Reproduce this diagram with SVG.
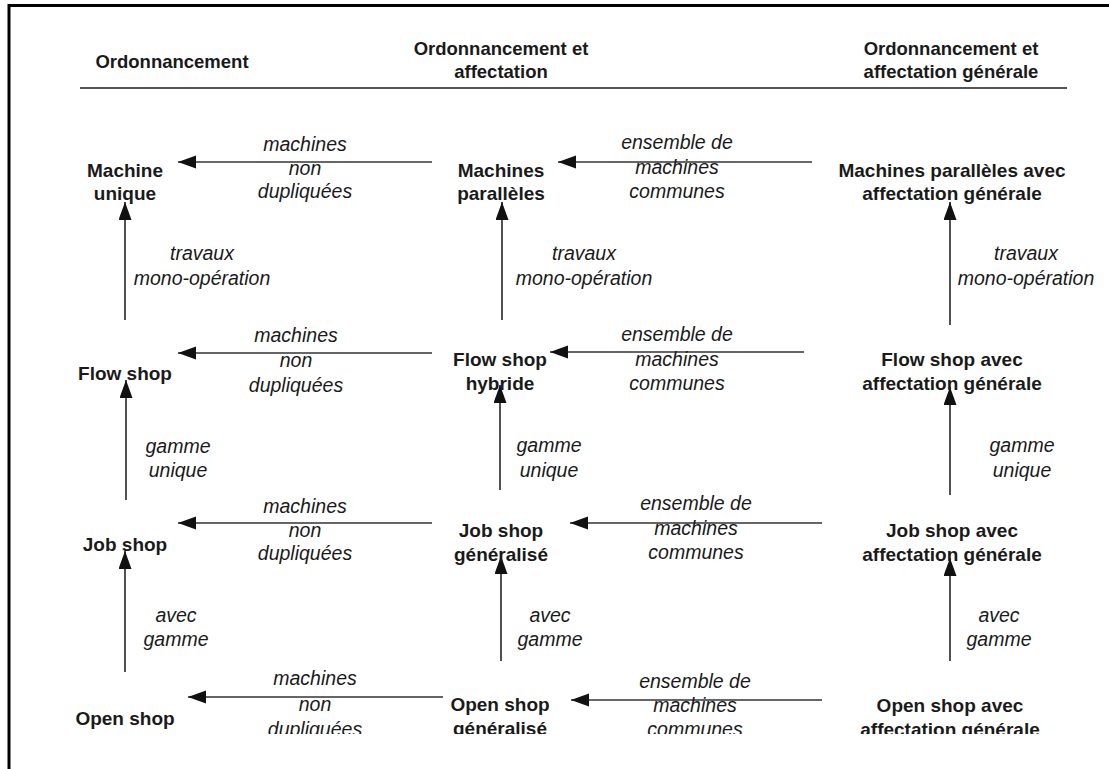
<svg xmlns="http://www.w3.org/2000/svg" width="1109" height="769" viewBox="0 0 1109 769">
<style>
.hd{font-family:"Liberation Sans",Arial,sans-serif;font-weight:bold;font-size:18.5px;fill:#1a1a1a;text-anchor:middle}
.nd{font-family:"Liberation Sans",Arial,sans-serif;font-weight:bold;font-size:19px;fill:#1a1a1a;text-anchor:middle}
.lb{font-family:"Liberation Sans",Arial,sans-serif;font-style:italic;font-size:19.5px;fill:#1a1a1a;text-anchor:middle}
.cn line{stroke:#333;stroke-width:1.7;marker-end:url(#ah)}
</style>
<defs>
<marker id="ah" markerUnits="userSpaceOnUse" markerWidth="19" markerHeight="14" refX="18" refY="6.5" orient="auto">
<path d="M0,0 L18,6.5 L0,13 z" fill="#111"/>
</marker>
<clipPath id="clip"><rect x="0" y="0" width="1109" height="734"/></clipPath>
</defs>
<rect width="1109" height="769" fill="#fff"/>
<path d="M9 769 V5.5 H1109" fill="none" stroke="#000" stroke-width="3"/>
<g id="header">
<text class="hd" x="172" y="68">Ordonnancement</text>
<text class="hd" x="501" y="55">Ordonnancement et</text>
<text class="hd" x="501" y="78">affectation</text>
<text class="hd" x="951" y="55">Ordonnancement et</text>
<text class="hd" x="951" y="78">affectation générale</text>
<line x1="80" y1="88" x2="1067" y2="88" stroke="#555" stroke-width="2"/>
</g>
<g clip-path="url(#clip)">
<g id="connectors" class="cn">
<line x1="432" y1="162" x2="178" y2="162"/>
<line x1="812" y1="162" x2="558" y2="162"/>
<line x1="432" y1="353" x2="178" y2="353"/>
<line x1="804" y1="352" x2="550" y2="352"/>
<line x1="432" y1="523" x2="178" y2="523"/>
<line x1="822" y1="523" x2="570" y2="523"/>
<line x1="443" y1="697" x2="188" y2="697"/>
<line x1="822" y1="700" x2="571" y2="700"/>
<line x1="125" y1="320" x2="125" y2="202"/>
<line x1="126" y1="500" x2="126" y2="380"/>
<line x1="125" y1="672" x2="125" y2="551"/>
<line x1="502" y1="320" x2="502" y2="202"/>
<line x1="500" y1="490" x2="500" y2="385"/>
<line x1="501" y1="661" x2="501" y2="556"/>
<line x1="950" y1="325" x2="950" y2="202"/>
<line x1="950" y1="495" x2="950" y2="387"/>
<line x1="950" y1="661" x2="950" y2="558"/>
</g>
<g id="edge-labels">
<text class="lb" x="305" y="151">machines</text><text class="lb" x="305" y="175">non</text><text class="lb" x="305" y="198">dupliquées</text>
<text class="lb" x="677" y="149">ensemble de</text><text class="lb" x="677" y="174">machines</text><text class="lb" x="677" y="198">communes</text>
<text class="lb" x="296" y="342">machines</text><text class="lb" x="296" y="367">non</text><text class="lb" x="296" y="392">dupliquées</text>
<text class="lb" x="677" y="341">ensemble de</text><text class="lb" x="677" y="366">machines</text><text class="lb" x="677" y="390">communes</text>
<text class="lb" x="305" y="513">machines</text><text class="lb" x="305" y="537">non</text><text class="lb" x="305" y="560">dupliquées</text>
<text class="lb" x="696" y="510">ensemble de</text><text class="lb" x="696" y="535">machines</text><text class="lb" x="696" y="559">communes</text>
<text class="lb" x="315" y="685">machines</text><text class="lb" x="315" y="711">non</text><text class="lb" x="315" y="736">dupliquées</text>
<text class="lb" x="695" y="688">ensemble de</text><text class="lb" x="695" y="712">machines</text><text class="lb" x="695" y="736">communes</text>
<text class="lb" x="202" y="260">travaux</text><text class="lb" x="202" y="285">mono-opération</text>
<text class="lb" x="584" y="260">travaux</text><text class="lb" x="584" y="285">mono-opération</text>
<text class="lb" x="1026" y="260">travaux</text><text class="lb" x="1026" y="285">mono-opération</text>
<text class="lb" x="178" y="453">gamme</text><text class="lb" x="178" y="477">unique</text>
<text class="lb" x="549" y="452">gamme</text><text class="lb" x="549" y="477">unique</text>
<text class="lb" x="1022" y="452">gamme</text><text class="lb" x="1022" y="477">unique</text>
<text class="lb" x="176" y="622">avec</text><text class="lb" x="176" y="646">gamme</text>
<text class="lb" x="550" y="622">avec</text><text class="lb" x="550" y="646">gamme</text>
<text class="lb" x="999" y="622">avec</text><text class="lb" x="999" y="646">gamme</text>
</g>
<g id="machine-unique"><text class="nd" x="125" y="177">Machine</text><text class="nd" x="125" y="200">unique</text></g>
<g id="machines-paralleles"><text class="nd" x="501" y="177">Machines</text><text class="nd" x="501" y="200">parallèles</text></g>
<g id="mp-affectation"><text class="nd" x="952" y="177">Machines parallèles avec</text><text class="nd" x="952" y="200">affectation générale</text></g>
<g id="flow-shop"><text class="nd" x="125" y="380">Flow shop</text></g>
<g id="flow-shop-hybride"><text class="nd" x="500" y="366">Flow shop</text><text class="nd" x="500" y="390">hybride</text></g>
<g id="fs-affectation"><text class="nd" x="952" y="366">Flow shop avec</text><text class="nd" x="952" y="390">affectation générale</text></g>
<g id="job-shop"><text class="nd" x="125" y="551">Job shop</text></g>
<g id="job-shop-gen"><text class="nd" x="501" y="537">Job shop</text><text class="nd" x="501" y="561">généralisé</text></g>
<g id="js-affectation"><text class="nd" x="952" y="537">Job shop avec</text><text class="nd" x="952" y="561">affectation générale</text></g>
<g id="open-shop"><text class="nd" x="125" y="725">Open shop</text></g>
<g id="open-shop-gen"><text class="nd" x="500" y="711">Open shop</text><text class="nd" x="500" y="735">généralisé</text></g>
<g id="os-affectation"><text class="nd" x="950" y="712">Open shop avec</text><text class="nd" x="950" y="736">affectation générale</text></g>
</g>
</svg>
